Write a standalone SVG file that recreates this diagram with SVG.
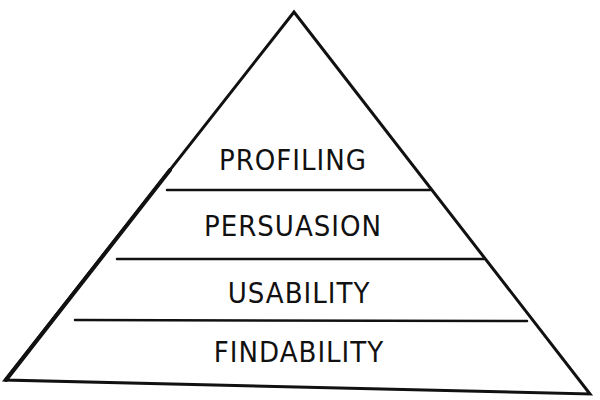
<svg xmlns="http://www.w3.org/2000/svg" width="600" height="400" viewBox="0 0 600 400">
<style>
.l{stroke:#111;stroke-width:2.5;fill:none;stroke-linecap:round}
.t{font-family:"DejaVu Sans Condensed","DejaVu Sans",sans-serif;font-size:29px;fill:#111;text-anchor:middle;letter-spacing:1px}
</style>
<rect width="600" height="400" fill="#fff"/>
<g id="pyramid">
<path class="l" d="M294,12 L5,380 L590,394 Z" style="stroke-width:3"/>
<path class="l" d="M6,380 L170,170" style="stroke-width:4"/>
</g>
<g id="connectors">
<line class="l" x1="167" y1="190" x2="430" y2="190"/>
<line class="l" x1="117" y1="259" x2="484" y2="259"/>
<line class="l" x1="75" y1="320" x2="527" y2="321"/>
</g>
<g id="profiling"><text class="t" x="293" y="170">PROFILING</text></g>
<g id="persuasion"><text class="t" x="293" y="236">PERSUASION</text></g>
<g id="usability"><text class="t" x="299" y="303">USABILITY</text></g>
<g id="findability"><text class="t" x="299" y="362">FINDABILITY</text></g>
</svg>
